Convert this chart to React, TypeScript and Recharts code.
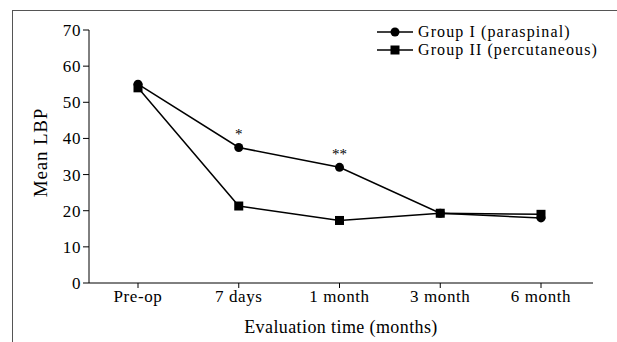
import { LineChart, Line, XAxis, YAxis, LabelList } from 'recharts';

const timepoints = ['Pre-op', '7 days', '1 month', '3 month', '6 month'];
const groupI = [55, 37.5, 32, 19.3, 18];
const groupII = [54, 21.3, 17.3, 19.3, 19];
const marks = ['', '*', '**', '', ''];
const yTicks = [0, 10, 20, 30, 40, 50, 60, 70];

const chartData = timepoints.map((t, i) => ({
  time: t,
  g1: groupI[i],
  g2: groupII[i],
  mark: marks[i],
}));

const FONT = '"Liberation Serif", "Times New Roman", serif';

// square marker for group II
const SquareDot = (props: any) => {
  const { cx, cy } = props;
  if (cx == null || cy == null) return null;
  return <rect x={cx - 4.5} y={cy - 4.5} width={9} height={9} fill="#000" />;
};

// legend drawn by hand, top right
const LegendBox = () => (
  <svg width={240} height={42} style={{ position: 'absolute', left: 377, top: 24, overflow: 'visible' }}>
    <line x1={0} y1={8} x2={36} y2={8} stroke="#000" strokeWidth={1.5} />
    <circle cx={18} cy={8} r={4.5} fill="#000" />
    <text x={41} y={13} fontFamily={FONT} fontSize={16} letterSpacing={1.1} fill="#000">Group I (paraspinal)</text>
    <line x1={0} y1={26} x2={36} y2={26} stroke="#000" strokeWidth={1.5} />
    <rect x={13.5} y={21.5} width={9} height={9} fill="#000" />
    <text x={41} y={31} fontFamily={FONT} fontSize={16} letterSpacing={1.1} fill="#000">Group II (percutaneous)</text>
  </svg>
);

export default function App() {
  return (
    <div style={{ position: 'absolute', left: 0, top: 0, width: 617, height: 342, background: '#fff' }}>
      <div
        style={{
          position: 'absolute',
          left: 12,
          top: 10,
          right: 0,
          bottom: 0,
          borderTop: '1px solid #555',
          borderLeft: '1px solid #555',
        }}
      />
      <LineChart
        width={617}
        height={342}
        data={chartData}
        margin={{ top: 30, right: 24, left: 0, bottom: 0 }}
        style={{ position: 'absolute', left: 0, top: 0 }}
      >
        <XAxis
          dataKey="time"
          interval={0}
          padding={{ left: 49, right: 52 }}
          height={59}
          stroke="#000"
          tickSize={5}
          tick={{ fill: '#000', fontFamily: FONT, fontSize: 17, letterSpacing: 0.6 }}
          label={{ value: 'Evaluation time (months)', position: 'insideBottom', offset: 9, fill: '#000', fontFamily: FONT, fontSize: 18, letterSpacing: 0.4 }}
        />
        <YAxis
          domain={[0, 70]}
          ticks={yTicks}
          width={89}
          stroke="#000"
          tickSize={6}
          tick={{ fill: '#000', fontFamily: FONT, fontSize: 17, letterSpacing: 0.6 }}
          label={{ value: 'Mean LBP', angle: -90, position: 'insideLeft', offset: 40, dy: -4, fill: '#000', fontFamily: FONT, fontSize: 19, letterSpacing: 0.8, style: { textAnchor: 'middle' } }}
        />
        <Line
          dataKey="g1"
          name="Group I (paraspinal)"
          stroke="#000"
          strokeWidth={1.5}
          dot={{ r: 4.5, fill: '#000', stroke: '#000', strokeWidth: 0 }}
          isAnimationActive={false}
        >
          <LabelList dataKey="mark" position="top" offset={8} fill="#000" stroke="none" fontFamily={FONT} fontSize={15} />
        </Line>
        <Line
          dataKey="g2"
          name="Group II (percutaneous)"
          stroke="#000"
          strokeWidth={1.5}
          dot={<SquareDot />}
          isAnimationActive={false}
        />
      </LineChart>
      <LegendBox />
    </div>
  );
}
